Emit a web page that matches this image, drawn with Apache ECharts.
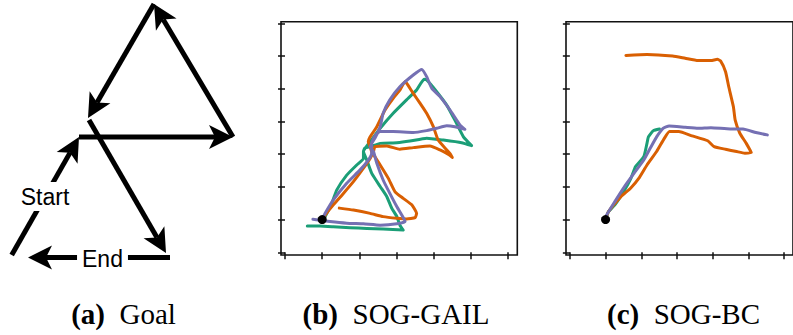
<!DOCTYPE html>
<html>
<head>
<meta charset="utf-8">
<script src="https://cdn.jsdelivr.net/npm/echarts@6/dist/echarts.min.js"></script>
<style>
  html, body { margin: 0; padding: 0; background: #fff; }
  #chart { width: 793px; height: 335px; }
</style>
</head>
<body>
<div id="chart"></div>
<script>
// ---- (a) Goal: arrow segments of the target path, [x0, y0, x1, y1] (tail -> tip)
const goalArrows = [
  [11.7, 255, 79, 137],
  [79, 137, 233, 137],
  [233, 137, 154, 4],
  [154, 4, 88, 118],
  [89, 120, 166, 253],
  [170, 257.5, 28, 257.5]
];
const goalLabels = [
  { name: 'Start', value: [45, 196.5] },
  { name: 'End', value: [102.5, 258.5] }
];

// ---- shared tick values for the trajectory panels
const xTicks = [0, 1, 2, 3, 4, 5, 6];
const yTicks = [0, 1, 2, 3, 4, 5, 6, 7];
const startPoint = [[1, 1]];

// ---- (b) SOG-GAIL trajectories
const gailGreen = [[1.05,1.05],[1.08,1.09],[1.26,1.50],[1.39,1.90],[1.66,2.36],[1.93,2.67],[2.11,2.87],[2.11,3.08],[2.15,3.19],[2.29,3.23],[2.56,3.33],[3.01,3.35],[3.36,3.40],[3.81,3.49],[4.26,3.43],[4.75,3.35],[5.02,3.26],[4.80,3.53],[4.57,4.04],[4.35,4.50],[4.08,4.91],[3.81,5.27],[3.74,5.29],[3.54,4.96],[3.27,4.66],[2.91,4.25],[2.56,3.79],[2.29,3.38],[2.11,3.08],[2.20,2.82],[2.33,2.42],[2.56,2.01],[2.74,1.70],[2.87,1.35],[3.01,1.09],[3.09,0.83],[3.18,0.68],[2.64,0.71],[2.20,0.73],[1.75,0.75],[1.30,0.78],[0.94,0.80],[0.60,0.80]];
const gailOrange = [[1.00,1.00],[1.08,1.14],[1.30,1.45],[1.57,1.80],[1.84,2.16],[2.11,2.57],[2.29,2.87],[2.38,3.08],[2.42,3.23],[2.74,3.25],[3.09,3.15],[3.45,3.20],[3.90,3.25],[4.17,3.13],[4.40,2.99],[4.50,2.90],[4.45,3.00],[4.35,3.13],[4.12,3.43],[3.99,3.84],[3.81,4.25],[3.63,4.56],[3.45,4.86],[3.27,5.17],[3.23,5.22],[3.09,4.96],[2.91,4.71],[2.69,4.35],[2.47,3.84],[2.29,3.53],[2.24,3.38],[2.29,3.23],[2.33,3.08],[2.56,2.67],[2.78,2.26],[2.96,1.85],[3.18,1.65],[3.41,1.45],[3.54,1.19],[3.50,1.06],[3.27,1.02],[3.01,1.04],[2.64,1.09],[2.29,1.19],[1.84,1.29],[1.46,1.35]];
const gailPurple = [[1.00,1.00],[1.08,1.19],[1.30,1.60],[1.66,2.11],[2.02,2.52],[2.24,2.82],[2.33,3.03],[2.33,3.33],[2.42,3.56],[2.56,3.69],[2.91,3.69],[3.45,3.66],[3.81,3.72],[4.08,3.79],[4.35,3.87],[4.57,3.84],[4.84,3.76],[4.71,3.89],[4.44,4.35],[4.17,4.76],[3.95,5.01],[3.81,5.37],[3.68,5.59],[3.45,5.42],[3.09,5.06],[2.82,4.66],[2.64,4.25],[2.56,3.84],[2.42,3.49],[2.29,3.23],[2.38,3.08],[2.47,2.72],[2.64,2.21],[2.82,1.80],[3.01,1.39],[3.14,1.14],[3.23,0.94],[3.01,0.87],[2.56,0.83],[2.11,0.87],[1.66,0.89],[1.21,0.94],[0.75,1.01]];

// ---- (c) SOG-BC trajectories
const bcGreen = [[1.02,1.05],[1.08,1.24],[1.26,1.45],[1.53,1.90],[1.71,2.26],[1.84,2.62],[2.07,2.92],[2.16,3.33],[2.20,3.53],[2.34,3.72],[2.51,3.77]];
const bcOrange = [[1.00,1.00],[1.08,1.24],[1.43,1.70],[1.70,1.96],[1.93,2.26],[2.16,2.67],[2.43,3.08],[2.65,3.49],[2.79,3.69],[3.05,3.69],[3.42,3.56],[3.86,3.41],[4.04,3.23],[4.36,3.15],[4.67,3.08],[4.90,3.03],[5.08,3.04],[4.94,3.33],[4.76,3.64],[4.63,4.04],[4.58,4.45],[4.45,5.06],[4.36,5.52],[4.22,5.85],[4.13,5.90],[3.95,5.86],[3.59,5.86],[3.23,5.93],[2.88,6.00],[2.16,6.05],[1.57,6.02]];
const bcPurple = [[1.00,1.00],[1.03,1.14],[1.26,1.55],[1.53,2.01],[1.80,2.42],[2.07,2.82],[2.25,3.18],[2.43,3.53],[2.61,3.79],[2.78,3.86],[3.23,3.82],[3.59,3.79],[3.95,3.81],[4.49,3.77],[4.85,3.77],[5.21,3.66],[5.53,3.59]];

// ---- captions under each panel
const captions = [
  { tag: '(a)', title: 'Goal', x: 123.5 },
  { tag: '(b)', title: 'SOG-GAIL', x: 396 },
  { tag: '(c)', title: 'SOG-BC', x: 683.5 }
];

const GREEN = '#1b9e77', ORANGE = '#d95f02', PURPLE = '#7570b3';

const chart = echarts.init(document.getElementById('chart'), null, { renderer: 'svg' });

function trajAxisX(gridIndex) {
  return {
    type: 'value', gridIndex, min: -0.108, max: 6.249,
    axisLine: { show: false },
    axisTick: { show: true, length: 7, customValues: xTicks, lineStyle: { color: '#111', width: 1.5 } },
    axisLabel: { show: false, customValues: xTicks },
    splitLine: { show: false }
  };
}
function trajAxisY(gridIndex) {
  return {
    type: 'value', gridIndex, min: -0.083, max: 7.05,
    axisLine: { show: false },
    axisTick: { show: true, length: 7, customValues: yTicks, lineStyle: { color: '#111', width: 1.5 } },
    axisLabel: { show: false, customValues: yTicks },
    splitLine: { show: false }
  };
}
function traj(data, color, idx, z) {
  return {
    type: 'line', data, xAxisIndex: idx, yAxisIndex: idx,
    showSymbol: false, symbol: 'none', z, smooth: 0.15,
    lineStyle: { color, width: 3, cap: 'round', join: 'round' }
  };
}

const option = {
  animation: false,
  backgroundColor: '#fff',
  grid: [
    { left: 0, top: 0, width: 260, height: 280, show: false },
    { left: 281, top: 21.7, width: 236.3, height: 233.3, show: true, borderColor: '#111', borderWidth: 1.6 },
    { left: 566, top: 21.7, width: 236.3, height: 233.3, show: true, borderColor: '#111', borderWidth: 1.6 }
  ],
  xAxis: [
    { type: 'value', gridIndex: 0, min: 0, max: 260, show: false },
    trajAxisX(1),
    trajAxisX(2)
  ],
  yAxis: [
    { type: 'value', gridIndex: 0, min: 0, max: 280, inverse: true, show: false },
    trajAxisY(1),
    trajAxisY(2)
  ],
  series: [
    {
      // arrows of the goal path: a thick shaft plus a notched head
      type: 'custom', xAxisIndex: 0, yAxisIndex: 0, data: goalArrows, z: 2,
      renderItem(params, api) {
        const p0 = api.coord([api.value(0), api.value(1)]);
        const p1 = api.coord([api.value(2), api.value(3)]);
        const dx = p1[0] - p0[0], dy = p1[1] - p0[1];
        const len = Math.hypot(dx, dy);
        const ux = dx / len, uy = dy / len, nx = -uy, ny = ux;
        const L = 24, W = 12, N = 6;
        const bx = p1[0] - ux * L, by = p1[1] - uy * L;
        const notch = [p1[0] - ux * (L - N), p1[1] - uy * (L - N)];
        return {
          type: 'group',
          children: [
            { type: 'line', shape: { x1: p0[0], y1: p0[1], x2: notch[0], y2: notch[1] },
              style: { stroke: '#000', lineWidth: 5, fill: null } },
            { type: 'polygon', shape: { points: [p1, [bx + nx * W, by + ny * W], notch, [bx - nx * W, by - ny * W]] },
              style: { fill: '#000' } }
          ]
        };
      }
    },
    {
      // "Start" / "End" words, masking the arrow shaft behind them
      type: 'custom', xAxisIndex: 0, yAxisIndex: 0, z: 6,
      data: goalLabels.map(d => d.value),
      renderItem(params, api) {
        const p = api.coord([api.value(0), api.value(1)]);
        return {
          type: 'text', x: p[0], y: p[1],
          style: {
            text: goalLabels[params.dataIndex].name,
            align: 'center', verticalAlign: 'middle',
            fontFamily: 'Liberation Sans', fontSize: 23, fill: '#000',
            backgroundColor: '#fff', padding: [3, 5]
          }
        };
      }
    },
    traj(gailGreen, GREEN, 1, 3),
    traj(gailOrange, ORANGE, 1, 4),
    traj(gailPurple, PURPLE, 1, 5),
    traj(bcGreen, GREEN, 2, 3),
    traj(bcOrange, ORANGE, 2, 4),
    traj(bcPurple, PURPLE, 2, 5),
    { type: 'scatter', xAxisIndex: 1, yAxisIndex: 1, data: startPoint, symbolSize: 9, itemStyle: { color: '#000', opacity: 1 }, z: 10 },
    { type: 'scatter', xAxisIndex: 2, yAxisIndex: 2, data: startPoint, symbolSize: 9, itemStyle: { color: '#000', opacity: 1 }, z: 10 }
  ],
  graphic: captions.map(c => ({
    type: 'text', x: c.x, y: 314,
    style: {
      text: '{b|' + c.tag + '}  {r|' + c.title + '}',
      align: 'center', verticalAlign: 'middle',
      fontFamily: 'Liberation Serif', fontSize: 29, fill: '#000',
      rich: {
        b: { fontFamily: 'Liberation Serif', fontSize: 29, fontWeight: 'bold', fill: '#000' },
        r: { fontFamily: 'Liberation Serif', fontSize: 29, fill: '#000' }
      }
    }
  }))
};

chart.setOption(option);
</script>
</body>
</html>
